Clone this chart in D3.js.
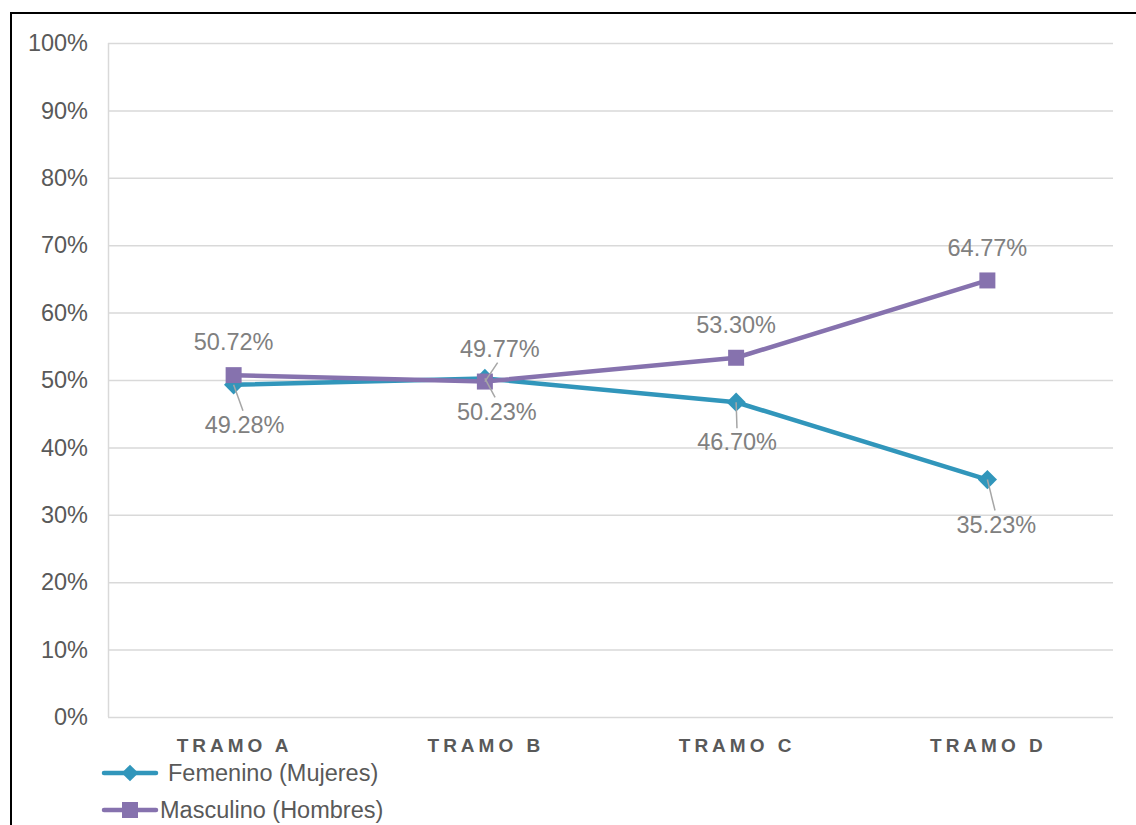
<!DOCTYPE html>
<html>
<head>
<meta charset="utf-8">
<script src="https://cdn.jsdelivr.net/npm/d3@7"></script>
<style>
  body { margin: 0; background: #fff; }
  svg { display: block; font-family: Arial, "Liberation Sans", sans-serif; }
</style>
</head>
<body>
<svg id="chart" width="1136" height="825"></svg>
<script>
// data
var categories = ["TRAMO A", "TRAMO B", "TRAMO C", "TRAMO D"];
var femenino = [49.28, 50.23, 46.70, 35.23];
var masculino = [50.72, 49.77, 53.30, 64.77];
var yTicks = [0, 10, 20, 30, 40, 50, 60, 70, 80, 90, 100];
var seriesNames = ["Femenino (Mujeres)", "Masculino (Hombres)"];

// label placement (dx, dy from the point, and whether a leader line is drawn)
var femLabelPos = [[11, 40, true], [12, 33, true], [1, 40, true], [9, 45, true]];
var mascLabelPos = [[0, -33, false], [15, -33, true], [0, -33, false], [0, -33, false]];

var colFem = "#3196bb";
var colMasc = "#8672ae";
var textGray = "#595959";
var labelGray = "#808080";

var svg = d3.select("#chart");

// outer frame
svg.append("path")
  .attr("d", "M11,825 L11,13 L1136,13")
  .attr("fill", "none")
  .attr("stroke", "#000")
  .attr("stroke-width", 2);

var plotLeft = 108, plotRight = 1113, plotTop = 43, plotBottom = 717;

var x = d3.scaleBand().domain(categories).range([plotLeft, plotRight]);
var y = d3.scaleLinear().domain([0, 100]).range([plotBottom, plotTop]);

// gridlines
svg.append("g")
  .selectAll("line")
  .data(yTicks)
  .enter().append("line")
  .attr("x1", plotLeft)
  .attr("x2", plotRight)
  .attr("y1", function(d) { return y(d) + 0.5; })
  .attr("y2", function(d) { return y(d) + 0.5; })
  .attr("stroke", "#d9d9d9")
  .attr("stroke-width", 1.5);

// left axis line
svg.append("line")
  .attr("x1", plotLeft + 0.5).attr("x2", plotLeft + 0.5)
  .attr("y1", plotTop).attr("y2", plotBottom)
  .attr("stroke", "#d9d9d9")
  .attr("stroke-width", 1.5);

// y labels
svg.append("g")
  .selectAll("text")
  .data(yTicks)
  .enter().append("text")
  .attr("x", 88)
  .attr("y", function(d) { return y(d); })
  .attr("dy", "0.35em")
  .attr("text-anchor", "end")
  .attr("fill", textGray)
  .style("font-size", "23.5px")
  .text(function(d) { return d + "%"; });

// category labels
svg.append("g")
  .selectAll("text")
  .data(categories)
  .enter().append("text")
  .attr("x", function(d) { return x(d) + x.bandwidth() / 2 + 1; })
  .attr("y", 752)
  .attr("text-anchor", "middle")
  .attr("fill", textGray)
  .style("font-size", "19px")
  .style("font-weight", "bold")
  .style("letter-spacing", "4px")
  .text(function(d) { return d; });

var cx = function(i) { return x(categories[i]) + x.bandwidth() / 2; };

var line = d3.line()
  .x(function(d, i) { return cx(i); })
  .y(function(d) { return y(d); });

// diamond drawn as a square turned 45 degrees
function marker(sel, shape, size) {
  sel.attr("d", d3.symbol().type(d3.symbolSquare).size(size));
  if (shape === "diamond") {
    sel.attr("transform", function() { return d3.select(this).attr("transform") + " rotate(45)"; });
  }
}

function drawSeries(values, color, shape) {
  svg.append("path")
    .datum(values)
    .attr("d", line)
    .attr("fill", "none")
    .attr("stroke", color)
    .attr("stroke-width", 4.5)
    .attr("stroke-linejoin", "round");

  svg.append("g")
    .selectAll("path")
    .data(values)
    .enter().append("path")
    .attr("transform", function(d, i) { return "translate(" + cx(i) + "," + y(d) + ")"; })
    .attr("fill", color)
    .call(marker, shape, shape === "square" ? 256 : 185);
}

drawSeries(femenino, colFem, "diamond");
drawSeries(masculino, colMasc, "square");

function drawLabels(values, pos) {
  var g = svg.append("g");
  values.forEach(function(v, i) {
    var px = cx(i), py = y(v);
    var p = pos[i];
    var tx = px + p[0], ty = py + p[1];
    if (p[2]) {
      var dir = p[1] > 0 ? 1 : -1;
      g.append("line")
        .attr("x1", px)
        .attr("y1", py)
        .attr("x2", px + p[0] * 0.85)
        .attr("y2", ty - dir * 14)
        .attr("stroke", "#a6a6a6")
        .attr("stroke-width", 1.5);
    }
    g.append("text")
      .attr("x", tx)
      .attr("y", ty)
      .attr("dy", "0.35em")
      .attr("text-anchor", "middle")
      .attr("fill", labelGray)
      .style("font-size", "23.5px")
      .text(v.toFixed(2) + "%");
  });
}

drawLabels(femenino, femLabelPos);
drawLabels(masculino, mascLabelPos);

// legend
var legend = svg.append("g");
var legendItems = [
  { name: seriesNames[0], color: colFem, shape: "diamond", y: 773, tx: 168 },
  { name: seriesNames[1], color: colMasc, shape: "square", y: 810, tx: 160 }
];
legendItems.forEach(function(d) {
  legend.append("line")
    .attr("x1", 104).attr("x2", 156)
    .attr("y1", d.y).attr("y2", d.y)
    .attr("stroke", d.color)
    .attr("stroke-width", 4.5)
    .attr("stroke-linecap", "round");
  legend.append("path")
    .attr("transform", "translate(130," + d.y + ")")
    .attr("fill", d.color)
    .call(marker, d.shape, d.shape === "square" ? 256 : 140);
  legend.append("text")
    .attr("x", d.tx)
    .attr("y", d.y)
    .attr("dy", "0.35em")
    .attr("fill", textGray)
    .style("font-size", "23.5px")
    .text(d.name);
});
</script>
</body>
</html>
